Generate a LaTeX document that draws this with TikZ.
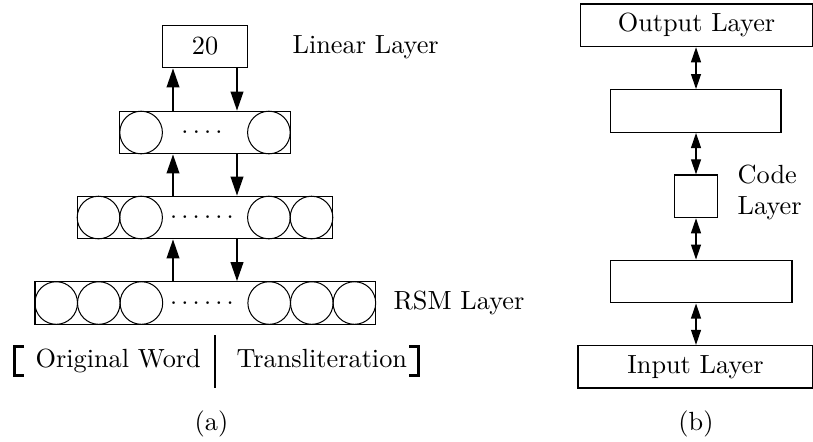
\documentclass[tikz,border=0pt]{standalone}
\usetikzlibrary{arrows.meta}

\tikzset{every picture/.style={line width=0.5pt}}
\tikzset{
  every node/.style={font=\fontsize{10.3}{12.2}\selectfont},
  layerbox/.style={draw, rectangle, inner sep=0pt, minimum height=16.7pt},
  neuron/.style={draw, circle, inner sep=0pt, minimum size=16.7pt, line width=0.4pt},
  onearr/.style={-{Triangle[length=7.4pt,width=5pt]}},
  duoarr/.style={{Triangle[length=5.9pt,width=3.9pt]}-{Triangle[length=5.9pt,width=3.9pt]}},
  brack/.style={line width=1.1pt},
}

\begin{document}
\begin{tikzpicture}[x=0.392pt,y=0.392pt,yscale=-1,xscale=1]
\useasboundingbox (0,0) rectangle (813,441);

%Shape: Rectangle [linear layer and the three rsm rows]
\node[layerbox, minimum width=33.4pt] (lin) at (205,46.5) {20};
\node[layerbox, minimum width=66.8pt] (row1) at (205,132.5) {};
\node[layerbox, minimum width=100.2pt] (row2) at (205,217.5) {};
\node[layerbox, minimum width=133.6pt] (row3) at (205.3,303) {};

%Shape: Circle [units of each row]
\foreach \k in {1}{
  \node[neuron] (c1a\k) at ({205-(\k+0.5)*42.6},132.5) {};
  \node[neuron] (c1b\k) at ({205+(\k+0.5)*42.6},132.5) {};
}
\foreach \k in {1,2}{
  \node[neuron] (c2a\k) at ({205-(\k+0.5)*42.6},217.5) {};
  \node[neuron] (c2b\k) at ({205+(\k+0.5)*42.6},217.5) {};
}
\foreach \k in {1,2,3}{
  \node[neuron] (c3a\k) at ({205.3-(\k+0.5)*42.6},303) {};
  \node[neuron] (c3b\k) at ({205.3+(\k+0.5)*42.6},303) {};
}

% Text Node
\node[anchor=base, inner sep=0pt] (dots1) at (202,138.9) {$\cdotp\cdotp\cdotp\cdotp$};
% Text Node
\node[anchor=base, inner sep=0pt] (dots2) at (202,223.9) {$\cdotp\cdotp\cdotp\cdotp\cdotp\cdotp$};
% Text Node
\node[anchor=base, inner sep=0pt] (dots3) at (202,309.4) {$\cdotp\cdotp\cdotp\cdotp\cdotp\cdotp$};

%Straight Lines [up and down between rows]
\coordinate (upx) at (173,0);
\coordinate (dnx) at (237,0);
\draw[onearr] (row1.north -| upx) -- (lin.south -| upx);
\draw[onearr] (lin.south -| dnx) -- (row1.north -| dnx);
\draw[onearr] (row2.north -| upx) -- (row1.south -| upx);
\draw[onearr] (row1.south -| dnx) -- (row2.north -| dnx);
\draw[onearr] (row3.north -| upx) -- (row2.south -| upx);
\draw[onearr] (row2.south -| dnx) -- (row3.north -| dnx);

% Text Node
\node[anchor=west, inner sep=0pt] (linlab) at (292,47) {Linear Layer};
% Text Node
\node[anchor=west, inner sep=0pt] (rsmlab) at (393,303) {RSM Layer};

% Text Node
\node[anchor=base west, inner sep=0pt] (orig) at (35,367) {Original Word};
% Text Node
\node[anchor=base west, inner sep=0pt] (trans) at (236,367) {Transliteration};
%Straight Lines [brackets and bar]
\draw[brack] (24,346.5) -- (14.2,346.5) -- (14.2,375.5) -- (24,375.5);
\draw[brack] (215,335) -- (215,388);
\draw[brack] (409,346.5) -- (418.5,346.5) -- (418.5,375.5) -- (409,375.5);

% Text Node
\node[anchor=base, inner sep=0pt] (capa) at (211.5,430) {(a)};

%Shape: Rectangle [autoencoder]
\node[layerbox, minimum width=91pt] (outp) at (696.5,25.3) {Output Layer};
\node[layerbox, minimum width=66.8pt] (hid1) at (695.8,111) {};
\node[layerbox, minimum width=16.7pt] (code) at (696,196.3) {};
\node[layerbox, minimum width=71.2pt] (hid2) at (701.3,281.5) {};
\node[layerbox, minimum width=92.2pt] (inp) at (695.5,366.8) {Input Layer};

%Straight Lines [both ways]
\coordinate (bx) at (696,0);
\draw[duoarr] (outp.south -| bx) -- (hid1.north -| bx);
\draw[duoarr] (hid1.south -| bx) -- (code.north -| bx);
\draw[duoarr] (code.south -| bx) -- (hid2.north -| bx);
\draw[duoarr] (hid2.south -| bx) -- (inp.north -| bx);

% Text Node
\node[anchor=base west, inner sep=0pt] (codelab) at (737,183) {Code};
% Text Node
\node[anchor=base west, inner sep=0pt] (codelab2) at (737,214) {Layer};
% Text Node
\node[anchor=base, inner sep=0pt] (capb) at (696,430) {(b)};

\end{tikzpicture}
\end{document}
